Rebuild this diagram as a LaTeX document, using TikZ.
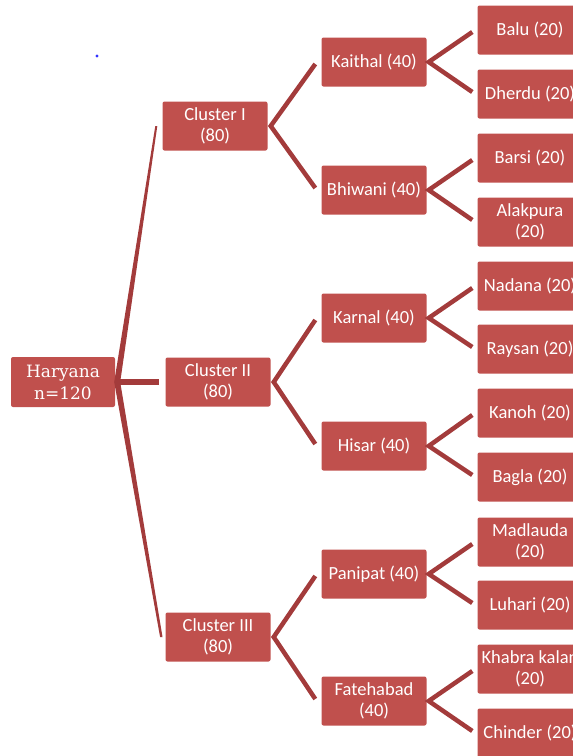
\documentclass[tikz,border=0pt]{standalone}
\usepackage{fontspec}
\setmainfont{Carlito}
\newfontfamily\serifb{DejaVu Serif}
\usetikzlibrary{calc}
\definecolor{boxred}{HTML}{C0504D}
\definecolor{linered}{HTML}{A33B3B}
\begin{document}
\begin{tikzpicture}[x=1pt,y=-1pt,
  box/.style={fill=boxred, text=white, minimum width=105pt, minimum height=49pt,
    rounded corners=2pt, align=center, inner sep=0pt,
    font=\fontsize{18.5}{21}\selectfont},
  conn/.style={draw=linered, line width=4.5pt, line join=miter},
  trunk/.style={fill=linered}]
\useasboundingbox (0,0) rectangle (573,756);
\clip (0,0) rectangle (573,756);
% stray dot
\fill[blue!80] (97,56) circle (1.6);
% root and clusters
\node[box, minimum width=104pt, minimum height=50pt, font=\serifb\fontsize{17}{22}\selectfont] (har) at (63,382) {Haryana\\n=120};
\node[box] (c1) at (215,126) {Cluster I\\(80)};
\node[box] (c2) at (218,382) {Cluster II\\(80)};
\node[box] (c3) at (218,637) {Cluster III\\(80)};
% districts
\node[box] (kai) at (374,62) {Kaithal (40)};
\node[box] (bhi) at (374,190) {Bhiwani (40)};
\node[box] (kar) at (374,318) {Karnal (40)};
\node[box] (his) at (374,446) {Hisar (40)};
\node[box] (pan) at (374,574) {Panipat (40)};
\node[box] (fat) at (374,701) {Fatehabad\\(40)};
% villages
\node[box] (v1) at (530,30) {Balu (20)};
\node[box] (v2) at (530,94) {Dherdu (20)};
\node[box] (v3) at (530,158) {Barsi (20)};
\node[box] (v4) at (530,222) {Alakpura\\(20)};
\node[box] (v5) at (530,286) {Nadana (20)};
\node[box] (v6) at (530,349) {Raysan (20)};
\node[box] (v7) at (530,413) {Kanoh (20)};
\node[box] (v8) at (530,477) {Bagla (20)};
\node[box] (v9) at (530,542) {Madlauda\\(20)};
\node[box] (v10) at (530,605) {Luhari (20)};
\node[box] (v11) at (530,669) {Khabra kalan\\(20)};
\node[box] (v12) at (530,733) {Chinder (20)};
% root connectors (tapered)
\coordinate (hj) at ($(har.east)+(2,0)$);
\coordinate (t1) at ($(c1.west)+(-6,0)$);
\coordinate (t3) at ($(c3.west)+(-4,0)$);
\fill[trunk] ($(hj)+(-3,0)$) -- ($(t1)+(-1,0)$) -- ($(t1)+(1,0)$) -- ($(hj)+(3,0)$) -- cycle;
\fill[trunk] ($(hj)+(-3,0)$) -- ($(t3)+(-1.2,0)$) -- ($(t3)+(1.2,0)$) -- ($(hj)+(3,0)$) -- cycle;
\draw[draw=linered, line width=5.5pt] (hj) -- ($(c2.west)+(-6,0)$);
% cluster -> district
\draw[conn] ($(kai.west)+(-6,2)$) -- ($(c1.east)+(3,0)$) -- ($(bhi.west)+(-6,-2)$);
\draw[conn] ($(kar.west)+(-6,2)$) -- ($(c2.east)+(3,0)$) -- ($(his.west)+(-6,-2)$);
\draw[conn] ($(pan.west)+(-6,2)$) -- ($(c3.east)+(3,0)$) -- ($(fat.west)+(-6,-2)$);
% district -> village
\draw[conn] ($(v1.west)+(-5,2)$) -- ($(kai.east)+(2,0)$) -- ($(v2.west)+(-5,-2)$);
\draw[conn] ($(v3.west)+(-5,2)$) -- ($(bhi.east)+(2,0)$) -- ($(v4.west)+(-5,-2)$);
\draw[conn] ($(v5.west)+(-5,2)$) -- ($(kar.east)+(2,0)$) -- ($(v6.west)+(-5,-2)$);
\draw[conn] ($(v7.west)+(-5,2)$) -- ($(his.east)+(2,0)$) -- ($(v8.west)+(-5,-2)$);
\draw[conn] ($(v9.west)+(-5,2)$) -- ($(pan.east)+(2,0)$) -- ($(v10.west)+(-5,-2)$);
\draw[conn] ($(v11.west)+(-5,2)$) -- ($(fat.east)+(2,0)$) -- ($(v12.west)+(-5,-2)$);
\end{tikzpicture}
\end{document}
